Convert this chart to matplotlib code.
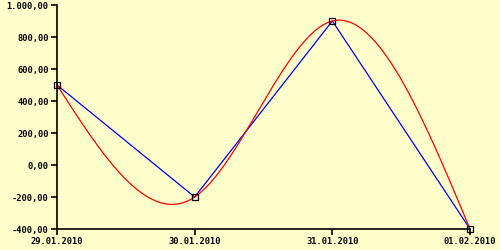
import numpy as np
import matplotlib
matplotlib.use("Agg")
import matplotlib.pyplot as plt
from matplotlib.ticker import FuncFormatter

# data
dates = ["29.01.2010", "30.01.2010", "31.01.2010", "01.02.2010"]
values = [500, -200, 900, -400]

bg = "#ffffcc"

# natural cubic spline through the points (the red smoothed series)
def natural_spline(y, n=60):
    y = np.asarray(y, dtype=float)
    k = len(y)
    A = np.zeros((k, k))
    r = np.zeros(k)
    A[0, 0] = 1
    A[-1, -1] = 1
    for i in range(1, k - 1):
        A[i, i - 1] = 1
        A[i, i] = 4
        A[i, i + 1] = 1
        r[i] = 6 * (y[i - 1] - 2 * y[i] + y[i + 1])
    M = np.linalg.solve(A, r)
    xs, ys = [], []
    for i in range(k - 1):
        t = np.linspace(0, 1, n)
        s = (y[i] * (1 - t) + y[i + 1] * t
             + M[i] / 6 * ((1 - t) ** 3 - (1 - t))
             + M[i + 1] / 6 * (t ** 3 - t))
        xs.append(i + t)
        ys.append(s)
    return np.concatenate(xs), np.concatenate(ys)

def de_fmt(v, pos):
    s = "{:,.2f}".format(v)
    return s.replace(",", "X").replace(".", ",").replace("X", ".")

fig = plt.figure(figsize=(5, 2.5), dpi=100, facecolor=bg)
ax = fig.add_axes([0.114, 0.084, 0.826, 0.896], facecolor=bg)

x = np.arange(len(values))
ax.plot(x, values, color="blue", lw=0.9)
sx, sy = natural_spline(values)
ax.plot(sx, sy, color="red", lw=0.9)
ax.plot(x, values, ls="none", marker="s", ms=4.5, mfc="none", mec="black", mew=0.9, clip_on=False)

ax.set_xlim(0, 3)
ax.set_ylim(-400, 1000)
ax.set_yticks(np.arange(-400, 1001, 200))
ax.yaxis.set_major_formatter(FuncFormatter(de_fmt))
ax.set_xticks(x)
ax.set_xticklabels(dates)

for side in ["top", "right"]:
    ax.spines[side].set_visible(False)
for side in ["left", "bottom"]:
    ax.spines[side].set_linewidth(1.2)
ax.tick_params(direction="out", length=4, width=1.2, pad=2, labelsize=6.3)
for lab in ax.get_xticklabels() + ax.get_yticklabels():
    lab.set_family("DejaVu Sans Mono")
    lab.set_fontweight("bold")

fig.savefig("out.png", dpi=100, facecolor=bg)
